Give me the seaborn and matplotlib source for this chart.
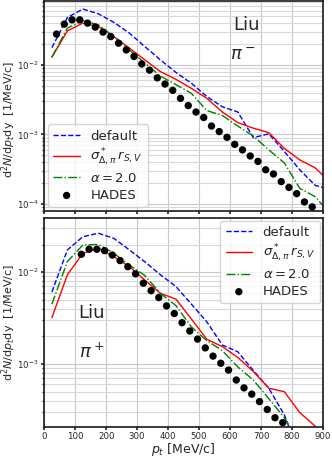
"""
Pion transverse-momentum spectra, Liu parametrisation vs HADES.
"""

import numpy as np
import matplotlib
matplotlib.use("Agg")
import matplotlib.pyplot as plt
import seaborn as sns

sns.set_theme(style="ticks")
plt.rcParams["font.family"] = ["DejaVu Sans"]

# ── model curves: bin centres in MeV/c ──
pt_model = [25, 75, 125, 175, 225, 275, 325, 375, 425, 475, 525, 575,
            625, 675, 725, 775, 825, 875, 925]

# pi-  panel
pim_default = [0.0177, 0.048, 0.0634, 0.0542, 0.0408, 0.0286, 0.0183, 0.0118,
               0.0078, 0.00545, 0.0035, 0.0025, 0.0021, 0.0009, 0.00102,
               0.00057, 0.00031, 0.000185, 0.00016]
pim_sigma = [0.0129, 0.0308, 0.0398, 0.0356, 0.0255, 0.0174, 0.0118, 0.008,
             0.0062, 0.0046, 0.0033, 0.0021, 0.00148, 0.00123, 0.00106,
             0.00063, 0.00043, 0.00033, 0.0002]
pim_alpha = [0.0129, 0.0337, 0.0433, 0.0377, 0.0255, 0.0164, 0.0106, 0.0069,
             0.0052, 0.0039, 0.0022, 0.00187, 0.00132, 0.00095, 0.0006,
             0.00039, 0.000168, 0.000127, 0.00007]
pt_hades_m = [40, 65, 90, 115, 140, 165, 190, 215, 240, 265, 290, 315, 340,
              365, 390, 415, 440, 465, 490, 515, 540, 565, 590, 615, 640, 665,
              690, 715, 740, 765, 790, 815, 840, 865]
hades_m = [0.0277, 0.0385, 0.0444, 0.0444, 0.0398, 0.0349, 0.0296, 0.0255,
           0.0205, 0.0164, 0.0132, 0.0103, 0.0084, 0.0065, 0.0053, 0.0043,
           0.0033, 0.0026, 0.0021, 0.00175, 0.00132, 0.0011, 0.00091, 0.00072,
           0.0006, 0.00049, 0.00041, 0.00031, 0.00027, 0.00021, 0.000173,
           0.000141, 0.000107, 0.000091]

# pi+  panel
pip_default = [0.0061, 0.0175, 0.0244, 0.0266, 0.0234, 0.0175, 0.013, 0.0094,
               0.007, 0.0045, 0.00288, 0.00161, 0.00136, 0.00085, 0.000545,
               0.00028, 0.0001, 0.00005, 0.00003]
pip_sigma = [0.0032, 0.0094, 0.0161, 0.0182, 0.0148, 0.0115, 0.0082, 0.0059,
             0.0051, 0.0031, 0.00186, 0.00155, 0.00118, 0.00083, 0.000545,
             0.0005, 0.000296, 0.00021, 0.00012]
pip_alpha = [0.0045, 0.0131, 0.0198, 0.0201, 0.0161, 0.012, 0.0092, 0.0059,
             0.00434, 0.00254, 0.0018, 0.0014, 0.00093, 0.00067, 0.00042,
             0.00026, 0.00014, 0.00007, 0.00004]
pt_hades_p = [120, 145, 170, 195, 220, 245, 270, 295, 320, 345, 370, 395,
              420, 445, 470, 495, 520, 545, 570, 595, 620, 645, 670, 695,
              720, 745, 770]
hades_p = [0.0157, 0.0178, 0.0178, 0.0172, 0.0154, 0.0134, 0.0115, 0.0096,
           0.0076, 0.0063, 0.0053, 0.0043, 0.00355, 0.00282, 0.00229, 0.00187,
           0.0015, 0.00122, 0.00102, 0.00086, 0.00067, 0.00055, 0.00047,
           0.00039, 0.00032, 0.00026, 0.00023]

labels = ["default", r"$\sigma^*_{\Delta,\pi}\,r_{S,V}$", r"$\alpha = 2.0$", "HADES"]


def draw_panel(ax, default, sigma, alpha, pt_h, hades):
    sns.lineplot(x=pt_model, y=default, ax=ax, color="blue", linestyle="--",
                 lw=1.0, label=labels[0], sort=False, estimator=None)
    sns.lineplot(x=pt_model, y=sigma, ax=ax, color="red", linestyle="-",
                 lw=1.0, label=labels[1], sort=False, estimator=None)
    sns.lineplot(x=pt_model, y=alpha, ax=ax, color="green", linestyle="-.",
                 lw=1.0, label=labels[2], sort=False, estimator=None)
    sns.scatterplot(x=pt_h, y=hades, ax=ax, color="black", s=28,
                    edgecolor="none", label=labels[3], zorder=3)
    ax.set_yscale("log")
    ax.set_xlim(0, 900)
    ax.grid(which="major", color="#c8c8c8", lw=0.8)
    ax.grid(which="minor", color="#d8d8d8", lw=0.8)
    ax.tick_params(axis="both", which="major", labelsize=6.2, length=2.5, pad=1.5)
    ax.tick_params(axis="y", which="minor", length=1.5)
    ax.set_ylabel(r"d$^2N$/d$p_t$dy  [1/MeV/c]", fontsize=8)
    for s in ax.spines.values():
        s.set_color("#222222")


fig = plt.figure(figsize=(3.32, 4.57), dpi=100)
ax1 = fig.add_axes([0.133, 0.538, 0.840, 0.46])
ax2 = fig.add_axes([0.133, 0.066, 0.840, 0.457], sharex=ax1)

draw_panel(ax1, pim_default, pim_sigma, pim_alpha, pt_hades_m, hades_m)
ax1.set_ylim(7.9e-5, 0.083)
ax1.tick_params(axis="x", labelbottom=False)
ax1.set_xlabel("")
ax1.yaxis.set_label_coords(-0.095, 0.436)
ax1.legend(loc="lower left", fontsize=9.5, handlelength=2.0,
           borderaxespad=0.3, labelspacing=0.3)
ax1.text(0.726, 0.886, "Liu", transform=ax1.transAxes, fontsize=13,
         ha="center", va="center")
ax1.text(0.712, 0.743, r"$\pi^-$", transform=ax1.transAxes, fontsize=13,
         ha="center", va="center")

draw_panel(ax2, pip_default, pip_sigma, pip_alpha, pt_hades_p, hades_p)
ax2.set_ylim(2.07e-4, 0.039)
ax2.set_xticks(np.arange(0, 901, 100))
ax2.yaxis.set_label_coords(-0.095, 0.5)
ax2.set_xlabel(r"$p_t$ [MeV/c]", fontsize=9, labelpad=-0.5)
ax2.legend(loc="upper right", fontsize=9.5, handlelength=2.0,
           borderaxespad=0.2, labelspacing=0.3)
ax2.text(0.17, 0.545, "Liu", transform=ax2.transAxes, fontsize=13,
         ha="center", va="center")
ax2.text(0.17, 0.36, r"$\pi^+$", transform=ax2.transAxes, fontsize=13,
         ha="center", va="center")

fig.savefig("out.png", dpi=100)
plt.close(fig)
